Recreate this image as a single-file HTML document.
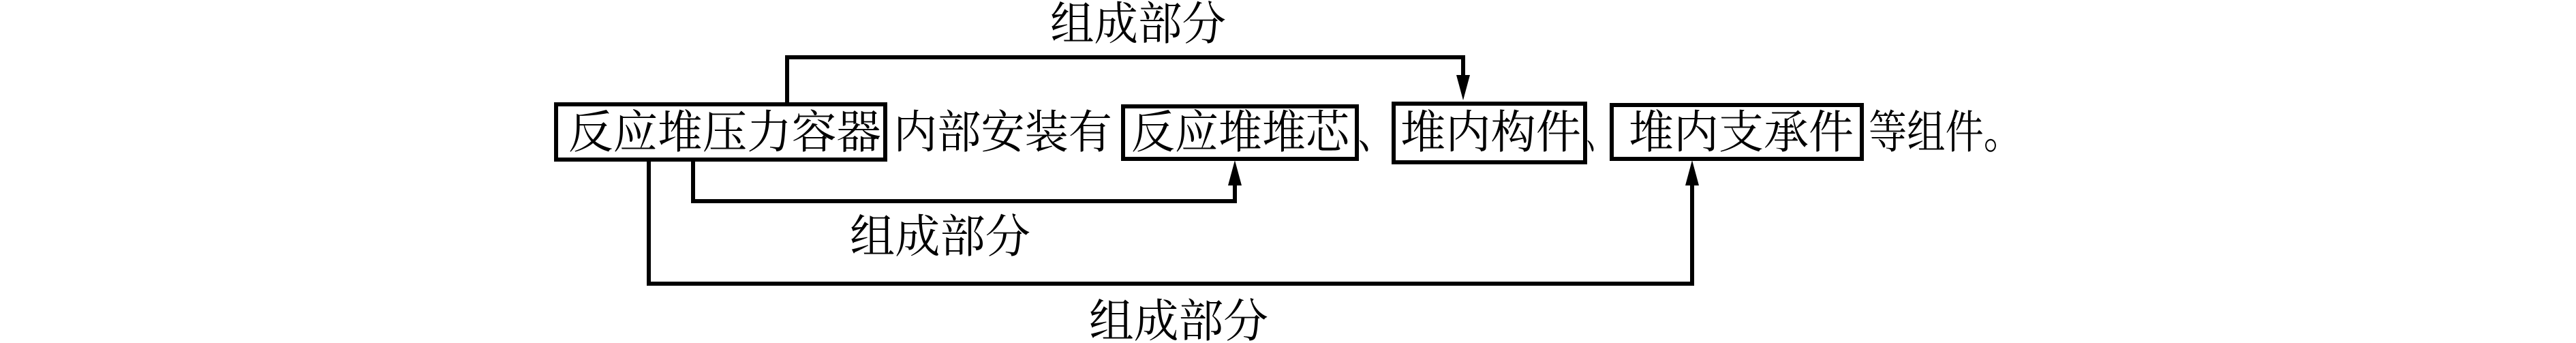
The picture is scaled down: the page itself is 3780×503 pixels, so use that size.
<!DOCTYPE html>
<html><head><meta charset="utf-8"><style>
html,body{margin:0;padding:0;background:#fff;}
svg{display:block}
text{font-family:"Liberation Serif","Noto Serif CJK SC",serif;font-size:67px;fill:#000;dominant-baseline:central}
</style></head><body>
<svg width="3780" height="503" viewBox="0 0 3780 503" xmlns="http://www.w3.org/2000/svg">
<g fill="none" stroke="#000" stroke-width="6">
<rect x="816" y="153" width="483" height="81"/>
<rect x="1648" y="156" width="343" height="77"/>
<rect x="2045" y="152" width="281" height="86"/>
<rect x="2365" y="154" width="367" height="79"/>
</g>
<g fill="none" stroke="#000" stroke-width="6">
<polyline points="1155,151 1155,84 2147,84 2147,115"/>
<polyline points="1017,236 1017,295 1812,295 1812,268"/>
<polyline points="952,236 952,416 2483,416 2483,268"/>
</g>
<g fill="#000">
<polygon points="2137,110 2157,110 2147,147"/>
<polygon points="1802,272 1822,272 1812,235"/>
<polygon points="2473,272 2493,272 2483,235"/>
</g>
<text x="834" y="195" textLength="459" lengthAdjust="spacingAndGlyphs">反应堆压力容器</text>
<text x="1311" y="195" textLength="321" lengthAdjust="spacingAndGlyphs">内部安装有</text>
<text x="1660" y="195" textLength="320" lengthAdjust="spacingAndGlyphs">反应堆堆芯</text>
<text x="1993" y="195" textLength="50" lengthAdjust="spacingAndGlyphs">、</text>
<text x="2055" y="195" textLength="265" lengthAdjust="spacingAndGlyphs">堆内构件</text>
<text x="2328" y="195" textLength="36" lengthAdjust="spacingAndGlyphs">、</text>
<text x="2390" y="195" textLength="330" lengthAdjust="spacingAndGlyphs">堆内支承件</text>
<text x="2742" y="195" textLength="225" lengthAdjust="spacingAndGlyphs">等组件。</text>
<text x="1541" y="36" textLength="258" lengthAdjust="spacingAndGlyphs">组成部分</text>
<text x="1247" y="348" textLength="265" lengthAdjust="spacingAndGlyphs">组成部分</text>
<text x="1598" y="472" textLength="263" lengthAdjust="spacingAndGlyphs">组成部分</text>
</svg>
</body></html>
